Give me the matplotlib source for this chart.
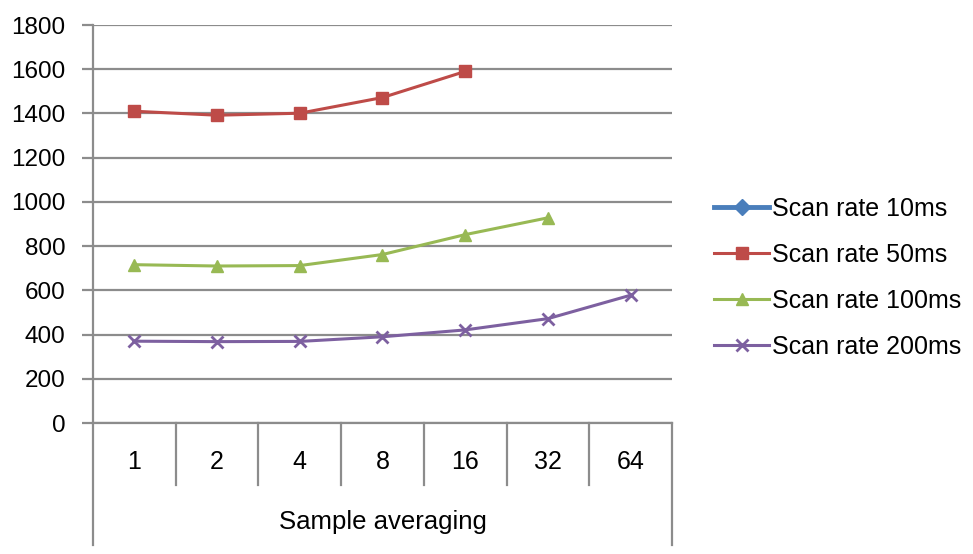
import matplotlib.pyplot as plt
import numpy as np

plt.rcParams['font.family'] = ['Liberation Sans', 'DejaVu Sans']

categories = ['1', '2', '4', '8', '16', '32', '64']
series_names = ['Scan rate 10ms', 'Scan rate 50ms', 'Scan rate 100ms', 'Scan rate 200ms']
rate_10ms = []
rate_50ms = [1410, 1392, 1401, 1472, 1590]
rate_100ms = [716, 710, 712, 762, 852, 928]
rate_200ms = [370, 368, 369, 390, 421, 472, 578]

GRID = '#8c8c8c'

fig = plt.figure(figsize=(9.73, 5.54), dpi=100, facecolor='white')
ax = fig.add_axes([93 / 973, 1 - 423 / 554, (672 - 93) / 973, (423 - 25) / 554])

x = np.arange(len(categories))
styles = [
    dict(color='#4a7ebb', marker='D', lw=3.5, ms=8),
    dict(color='#be4b48', marker='s', lw=2.2, ms=9),
    dict(color='#98b954', marker='^', lw=2.2, ms=9),
    dict(color='#7d60a0', marker='x', lw=2.2, ms=9, mew=2),
]
handles = []
for name, vals, st in zip(series_names, [rate_10ms, rate_50ms, rate_100ms, rate_200ms], styles):
    h, = ax.plot(x[:len(vals)], vals, label=name, clip_on=False, zorder=3, **st)
    handles.append(h)

ax.set_xlim(-0.5, len(categories) - 0.5)
ax.set_ylim(0, 1800)
ax.set_yticks(np.arange(0, 1801, 200))
ax.yaxis.grid(True, color=GRID, lw=1.6)
ax.set_axisbelow(True)
ax.tick_params(axis='y', length=8, width=1.6, color=GRID, labelsize=17.5, pad=12)
ax.tick_params(axis='x', length=0, labelbottom=False)

for s in ['top', 'right', 'left']:
    ax.spines[s].set_visible(False)
ax.spines['bottom'].set_color(GRID)
ax.spines['bottom'].set_linewidth(1.6)

# Excel-style category boxes under the axis
trans = ax.get_xaxis_transform()
for xb in np.arange(0.5, len(categories) - 1, 1.0):
    ax.plot([xb, xb], [0, -0.156], transform=trans, color=GRID, lw=1.6, clip_on=False)
ax.plot([-0.5, -0.5], [1, -0.307], transform=trans, color=GRID, lw=1.6, clip_on=False)
ax.plot([len(categories) - 0.5] * 2, [0, -0.307], transform=trans, color=GRID, lw=1.6, clip_on=False)
for xi, lab in zip(x, categories):
    ax.text(xi, -0.0975, lab, transform=trans, ha='center', va='center', fontsize=18)
ax.text(3, -0.249, 'Sample averaging', transform=trans, ha='center', va='center', fontsize=18.5)

fig.legend(handles=handles, loc='center left', bbox_to_anchor=(714 / 973, 1 - 278 / 554),
           frameon=False, fontsize=18, handlelength=2.2, handletextpad=0.1,
           labelspacing=0.88, borderaxespad=0, borderpad=0)

fig.savefig('out.png', dpi=100)
